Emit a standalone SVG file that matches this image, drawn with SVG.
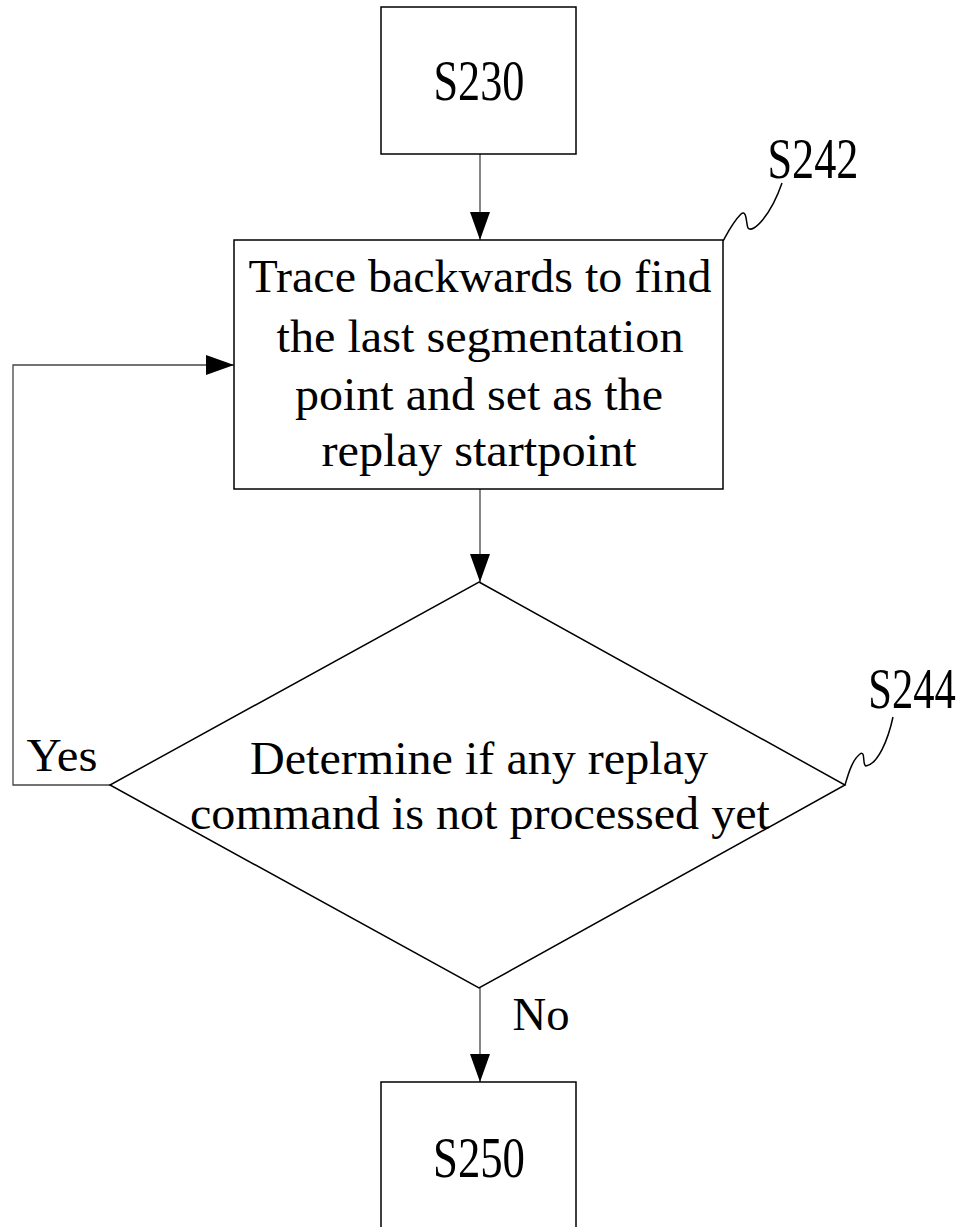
<svg xmlns="http://www.w3.org/2000/svg" width="968" height="1227" viewBox="0 0 968 1227">
<style>
.shape{fill:#fff;stroke:#000;stroke-width:1.5}
.conn{fill:none;stroke:#444;stroke-width:1.3}
.lead{fill:none;stroke:#000;stroke-width:1.5}
text{font-family:"Liberation Serif","Times New Roman",serif;fill:#000;text-anchor:middle}
.big{font-size:56px}
.body{font-size:47px}
</style>
<defs>
<marker id="arr" viewBox="0 0 28 20" refX="28" refY="10" markerWidth="28" markerHeight="20" markerUnits="userSpaceOnUse" orient="auto">
<path d="M0,0 L28,10 L0,20 Z" fill="#000"/>
</marker>
</defs>
<g id="connectors">
<line class="conn" x1="480" y1="154" x2="480" y2="240" marker-end="url(#arr)"/>
<line class="conn" x1="480" y1="489" x2="480" y2="582" marker-end="url(#arr)"/>
<polyline class="conn" points="110,785 13,785 13,365 234,365" marker-end="url(#arr)"/>
<line class="conn" x1="480" y1="988" x2="480" y2="1082" marker-end="url(#arr)"/>
<text class="body" x="62" y="771" textLength="71" lengthAdjust="spacingAndGlyphs">Yes</text>
<text class="body" x="541" y="1030" textLength="57" lengthAdjust="spacingAndGlyphs">No</text>
</g>
<g id="S230">
<rect class="shape" x="381" y="7" width="195" height="147"/>
<text class="big" x="479" y="100" textLength="91" lengthAdjust="spacingAndGlyphs">S230</text>
</g>
<g id="S242">
<rect class="shape" x="234" y="240" width="489" height="249"/>
<text class="body" x="480" y="292" textLength="463" lengthAdjust="spacingAndGlyphs">Trace backwards to find</text>
<text class="body" x="480" y="352" textLength="407" lengthAdjust="spacingAndGlyphs">the last segmentation</text>
<text class="body" x="479" y="410" textLength="368" lengthAdjust="spacingAndGlyphs">point and set as the</text>
<text class="body" x="479" y="466" textLength="315" lengthAdjust="spacingAndGlyphs">replay startpoint</text>
<path class="lead" d="M723,241 C728,232 733,222 741,214 C747,209 746,224 748,228 C753,234 771,215 782,183"/>
<text class="big" x="813" y="178" textLength="91" lengthAdjust="spacingAndGlyphs">S242</text>
</g>
<g id="S244">
<polygon class="shape" points="479,582 845,785 479,988 110,785"/>
<text class="body" x="479" y="774" textLength="458" lengthAdjust="spacingAndGlyphs">Determine if any replay</text>
<text class="body" x="480" y="829" textLength="580" lengthAdjust="spacingAndGlyphs">command is not processed yet</text>
<path class="lead" d="M845,785 C848,775 852,760 860,754 C866,750 862,766 866,766 C878,764 888,740 893,717"/>
<text class="big" transform="translate(912,708) scale(0.76,1)" x="0" y="0">S244</text>
</g>
<g id="S250">
<path class="shape" d="M381,1228 V1082 H576 V1228"/>
<text class="big" x="479" y="1177" textLength="92" lengthAdjust="spacingAndGlyphs">S250</text>
</g>
</svg>
